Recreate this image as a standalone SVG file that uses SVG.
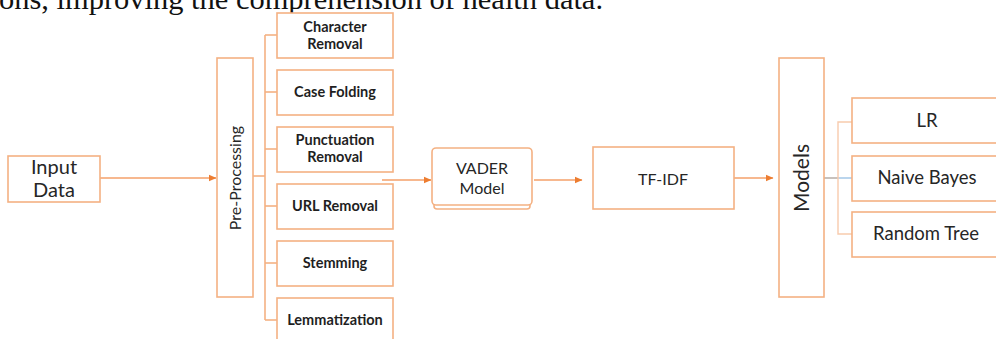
<svg xmlns="http://www.w3.org/2000/svg" width="996" height="339" viewBox="0 0 996 339">
  <style>
    .box { fill: #ffffff; stroke: #f4b183; stroke-width: 1.6; }
    .link { fill: none; stroke: #f4a06a; stroke-width: 1.4; }
    .tick { fill: none; stroke: #f4b183; stroke-width: 1.6; }
    .soft { fill: none; stroke: #f8cbad; stroke-width: 1.4; }
    .lbl { font-family: Lato, "Open Sans", "Liberation Sans", sans-serif; fill: #262626; text-anchor: middle; }
    .step { font-family: Lato, "Open Sans", "Liberation Sans", sans-serif; fill: #1f1f1f; text-anchor: middle; font-weight: bold; font-size: 14.5px; }
    .body { font-family: "Liberation Serif", "Times New Roman", serif; fill: #111111; font-size: 30px; }
  </style>
  <defs>
    <marker id="arrow" markerWidth="8" markerHeight="8" refX="7" refY="4" orient="auto" markerUnits="userSpaceOnUse">
      <path d="M0,0.8 L7.5,4 L0,7.2 Z" fill="#ed7d31"/>
    </marker>
  </defs>

  <rect width="996" height="339" fill="#ffffff"/>

  <!-- last line of the preceding paragraph -->
  <text class="body" x="-1" y="8.5" textLength="604" lengthAdjust="spacingAndGlyphs">ons, improving the comprehension of health data.</text>

  <!-- connectors -->
  <g id="connectors">
    <line class="link" x1="100" y1="178" x2="216" y2="178" marker-end="url(#arrow)"/>
    <!-- pre-processing bracket -->
    <line class="tick" x1="253" y1="176" x2="265" y2="176"/>
    <line class="tick" x1="265" y1="35" x2="265" y2="320"/>
    <line class="tick" x1="265" y1="35" x2="277" y2="35"/>
    <line class="tick" x1="265" y1="92" x2="277" y2="92"/>
    <line class="tick" x1="265" y1="149" x2="277" y2="149"/>
    <line class="tick" x1="265" y1="206" x2="277" y2="206"/>
    <line class="tick" x1="265" y1="263" x2="277" y2="263"/>
    <line class="tick" x1="265" y1="320" x2="277" y2="320"/>
    <line class="link" x1="382" y1="180" x2="431" y2="180" marker-end="url(#arrow)"/>
    <line class="link" x1="534" y1="180" x2="582" y2="180" marker-end="url(#arrow)"/>
    <line class="link" x1="734" y1="178" x2="773" y2="178" marker-end="url(#arrow)"/>
    <!-- models bracket -->
    <line x1="824" y1="178" x2="838" y2="178" stroke="#b0a6a0" stroke-width="1.4"/>
    <line x1="838" y1="178" x2="852" y2="178" stroke="#9dc3e6" stroke-width="1.4"/>
    <polyline class="soft" points="852,122 838,122 838,234 852,234"/>
  </g>

  <g id="input-data">
    <rect class="box" x="8" y="156" width="92" height="46"/>
    <text class="lbl" x="54" y="174" font-size="20">Input</text>
    <text class="lbl" x="54" y="197" font-size="20">Data</text>
  </g>

  <g id="pre-processing">
    <rect class="box" x="217" y="58" width="36" height="239"/>
    <text class="lbl" font-size="16" transform="translate(241,178) rotate(-90)">Pre-Processing</text>
  </g>

  <g id="character-removal">
    <rect class="box" x="277" y="13" width="116" height="45"/>
    <text class="step" x="335" y="32">Character</text>
    <text class="step" x="335" y="49">Removal</text>
  </g>
  <g id="case-folding">
    <rect class="box" x="277" y="70" width="116" height="45"/>
    <text class="step" x="335" y="97">Case Folding</text>
  </g>
  <g id="punctuation-removal">
    <rect class="box" x="277" y="127" width="116" height="45"/>
    <text class="step" x="335" y="145">Punctuation</text>
    <text class="step" x="335" y="162">Removal</text>
  </g>
  <g id="url-removal">
    <rect class="box" x="277" y="184" width="116" height="45"/>
    <text class="step" x="335" y="211">URL Removal</text>
  </g>
  <g id="stemming">
    <rect class="box" x="277" y="241" width="116" height="45"/>
    <text class="step" x="335" y="268">Stemming</text>
  </g>
  <g id="lemmatization">
    <rect class="box" x="277" y="298" width="116" height="45"/>
    <text class="step" x="335" y="325">Lemmatization</text>
  </g>

  <g id="vader-model">
    <rect class="box" x="434" y="152" width="96" height="57" rx="3"/>
    <rect class="box" x="432" y="148" width="100" height="57" rx="4"/>
    <text class="lbl" x="482" y="174" font-size="16">VADER</text>
    <text class="lbl" x="482" y="194" font-size="16">Model</text>
  </g>

  <g id="tf-idf">
    <rect class="box" x="593" y="147" width="141" height="62"/>
    <text class="lbl" x="663" y="185" font-size="16">TF-IDF</text>
  </g>

  <g id="models">
    <rect class="box" x="779" y="58" width="45" height="239"/>
    <text class="lbl" font-size="21" transform="translate(809,178) rotate(-90)">Models</text>
  </g>

  <g id="lr">
    <rect class="box" x="852" y="98" width="150" height="45"/>
    <text class="lbl" x="927" y="127" font-size="18.5">LR</text>
  </g>
  <g id="naive-bayes">
    <rect class="box" x="852" y="156" width="150" height="45"/>
    <text class="lbl" x="927" y="184" font-size="18.5">Naive Bayes</text>
  </g>
  <g id="random-tree">
    <rect class="box" x="852" y="212" width="150" height="45"/>
    <text class="lbl" x="926" y="240" font-size="18.5">Random Tree</text>
  </g>
</svg>
